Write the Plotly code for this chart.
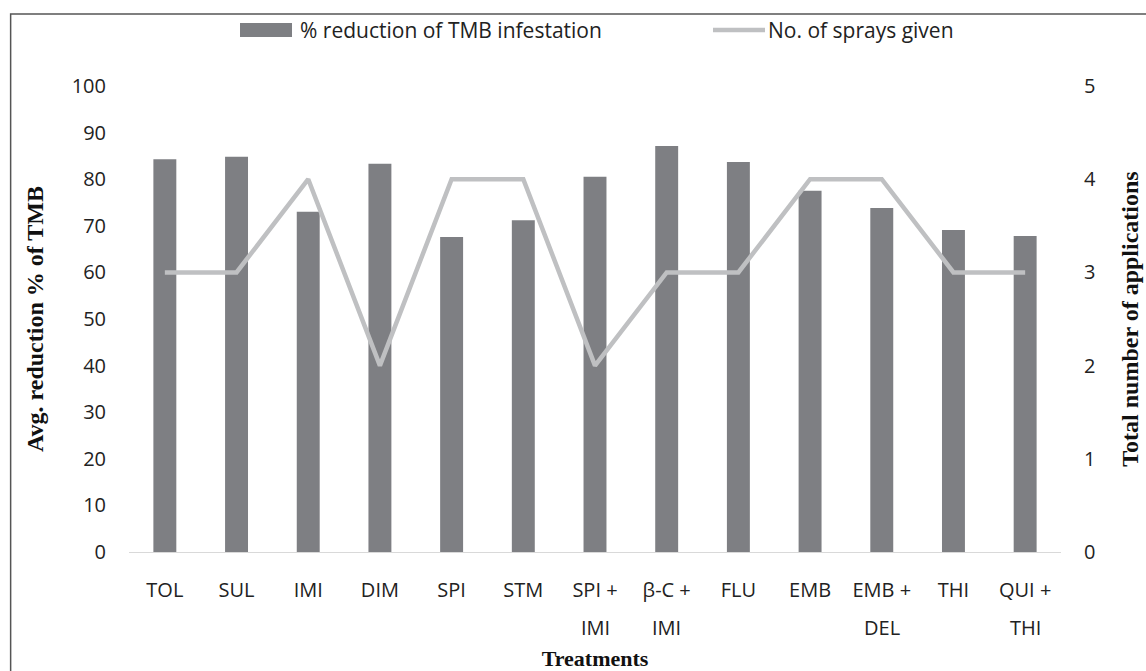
import plotly.graph_objects as go

treatments = ["TOL", "SUL", "IMI", "DIM", "SPI", "STM", "SPI +<br>IMI", "β-C +<br>IMI",
              "FLU", "EMB", "EMB +<br>DEL", "THI", "QUI +<br>THI"]
reduction_pct = [84.3, 84.8, 73.0, 83.3, 67.6, 71.2, 80.5, 87.1, 83.7, 77.5, 73.8, 69.1, 67.8]
sprays_given = [3, 3, 4, 2, 4, 4, 2, 3, 3, 4, 4, 3, 3]

left_ticks = [0, 10, 20, 30, 40, 50, 60, 70, 80, 90, 100]
right_ticks = [0, 1, 2, 3, 4, 5]

bar_name = "% reduction of TMB infestation"
line_name = "No. of sprays given"
bar_color = "#7E7F83"
line_color = "#BFC0C2"

tick_font = dict(family="Open Sans, Noto Sans, sans-serif", size=20, color="#222222")
legend_font = dict(family="Open Sans, Noto Sans, sans-serif", size=21, color="#222222")
title_font = dict(family="Liberation Serif, Times New Roman, serif", size=22, color="#111111")
ytitle_font = dict(family="Liberation Serif, Times New Roman, serif", size=24, color="#111111")

first_lines = [t.split("<br>")[0] for t in treatments]

fig = go.Figure()
fig.add_trace(go.Bar(
    x=treatments, y=reduction_pct, name=bar_name,
    marker=dict(color=bar_color, line=dict(width=0)), width=0.32, yaxis="y",
    showlegend=False,
))
fig.add_trace(go.Scatter(
    x=treatments, y=sprays_given, name=line_name, mode="lines",
    line=dict(color=line_color, width=4.5), yaxis="y2", showlegend=False,
))

# manual legend (wide swatch like the original)
leg_y = 1.1202
shapes = [
    dict(type="rect", xref="paper", yref="paper", x0=-0.127, x1=1.3, y0=-0.4, y1=1.1545,
         line=dict(color="#555555", width=1.5), fillcolor="rgba(0,0,0,0)", layer="below"),
    dict(type="rect", xref="paper", yref="paper", x0=0.1191, x1=0.1749, y0=1.1052, y1=1.1352,
         line=dict(width=0), fillcolor=bar_color),
    dict(type="line", xref="paper", yref="paper", x0=0.6266, x1=0.6824, y0=leg_y, y1=leg_y,
         line=dict(color=line_color, width=4.5)),
]
annotations = [
    dict(text=bar_name, xref="paper", yref="paper", x=0.1810, y=leg_y, xanchor="left",
         yanchor="middle", showarrow=False, font=legend_font),
    dict(text=line_name, xref="paper", yref="paper", x=0.6835, y=leg_y, xanchor="left",
         yanchor="middle", showarrow=False, font=legend_font),
]
# second lines of two-line category labels
for t in treatments:
    parts = t.split("<br>")
    if len(parts) > 1:
        annotations.append(dict(text=parts[1], xref="x", yref="paper", x=t, y=-0.161,
                                xanchor="center", yanchor="middle", showarrow=False,
                                font=tick_font))

fig.update_layout(
    width=1146, height=671,
    margin=dict(l=129, r=85, t=86, b=119, autoexpand=False),
    paper_bgcolor="white", plot_bgcolor="white",
    showlegend=False,
    xaxis=dict(
        tickmode="array", tickvals=treatments, ticktext=first_lines,
        tickfont=tick_font, showgrid=False, showline=True, linecolor="#D9D9D9", linewidth=1,
        ticks="", ticklabelstandoff=20,
        title=dict(text="<b>Treatments</b>", font=title_font, standoff=49),
    ),
    yaxis=dict(
        range=[0, 100], tickvals=left_ticks, tickfont=tick_font, showgrid=False,
        zeroline=False, showline=False, ticks="", ticklabelstandoff=22,
        title=dict(text="<b>Avg. reduction % of TMB</b>", font=ytitle_font, standoff=21),
    ),
    yaxis2=dict(
        range=[0, 5], tickvals=right_ticks, tickfont=tick_font, showgrid=False,
        zeroline=False, showline=False, ticks="", overlaying="y", side="right",
        ticklabelstandoff=22,
        title=dict(text="<b>Total number of applications</b>", font=ytitle_font, standoff=26),
    ),
    shapes=shapes,
    annotations=annotations,
)

fig.write_html("out.html", config={"displayModeBar": False},
               post_script="document.body.style.margin='0';")
